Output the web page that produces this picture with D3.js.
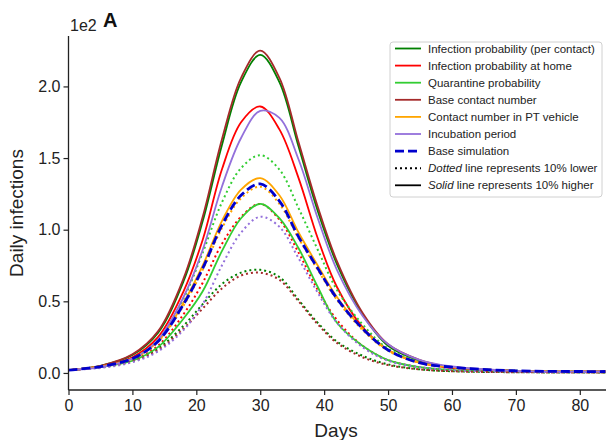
<!DOCTYPE html>
<html>
<head>
<meta charset="utf-8">
<script src="https://cdn.jsdelivr.net/npm/d3@7"></script>
<style>
  html, body { margin: 0; padding: 0; background: #fff; }
  svg { display: block; font-family: "Liberation Sans", Arial, sans-serif; }
</style>
</head>
<body>
<svg id="chart" width="606" height="440"></svg>
<script>
// ---- data (values in units of 1e2) ----
const days = [0, 5, 10, 14, 18, 21, 24, 27, 30, 33, 36, 39, 42, 46, 50, 55, 60, 70, 84];

const perContactHigh = [0.02, 0.05, 0.125, 0.28, 0.64, 1.06, 1.59, 2.03, 2.22, 2.03, 1.58, 1.13, 0.76, 0.41, 0.19, 0.085, 0.04, 0.015, 0.01];
const perContactLow  = [0.02, 0.04, 0.085, 0.17, 0.33, 0.48, 0.62, 0.70, 0.72, 0.67, 0.51, 0.35, 0.22, 0.12, 0.06, 0.025, 0.012, 0.005, 0.003];
const homeHigh       = [0.02, 0.045, 0.11, 0.25, 0.57, 0.93, 1.42, 1.75, 1.86, 1.70, 1.36, 0.94, 0.60, 0.32, 0.16, 0.07, 0.035, 0.013, 0.01];
const homeLow        = [0.02, 0.04, 0.09, 0.19, 0.41, 0.63, 0.90, 1.09, 1.18, 1.07, 0.84, 0.58, 0.37, 0.19, 0.09, 0.04, 0.02, 0.01, 0.005];
const quarantineHigh = [0.02, 0.04, 0.085, 0.18, 0.38, 0.57, 0.85, 1.08, 1.18, 1.08, 0.87, 0.60, 0.35, 0.19, 0.09, 0.04, 0.02, 0.01, 0.005];
const quarantineLow  = [0.02, 0.045, 0.10, 0.23, 0.52, 0.84, 1.19, 1.43, 1.52, 1.42, 1.15, 0.86, 0.58, 0.34, 0.17, 0.08, 0.04, 0.015, 0.01];
const contactHigh    = [0.02, 0.05, 0.13, 0.29, 0.66, 1.09, 1.63, 2.06, 2.25, 2.06, 1.61, 1.16, 0.78, 0.42, 0.20, 0.09, 0.04, 0.015, 0.01];
const contactLow     = [0.02, 0.04, 0.08, 0.16, 0.31, 0.45, 0.59, 0.68, 0.70, 0.65, 0.50, 0.34, 0.21, 0.11, 0.055, 0.025, 0.012, 0.005, 0.003];
const ptHigh         = [0.02, 0.045, 0.10, 0.22, 0.49, 0.75, 1.06, 1.28, 1.36, 1.24, 0.98, 0.75, 0.53, 0.31, 0.16, 0.07, 0.04, 0.015, 0.01];
const ptLow          = [0.02, 0.045, 0.10, 0.22, 0.47, 0.72, 1.01, 1.22, 1.30, 1.18, 0.94, 0.72, 0.51, 0.30, 0.155, 0.07, 0.04, 0.015, 0.01];
const incubationHigh = [0.02, 0.04, 0.10, 0.23, 0.53, 0.86, 1.30, 1.64, 1.83, 1.78, 1.49, 1.08, 0.72, 0.40, 0.20, 0.09, 0.045, 0.015, 0.01];
const incubationLow  = [0.02, 0.035, 0.075, 0.15, 0.30, 0.48, 0.75, 0.98, 1.09, 1.02, 0.80, 0.56, 0.35, 0.18, 0.085, 0.04, 0.02, 0.008, 0.005];
const baseSim        = [0.02, 0.045, 0.10, 0.22, 0.48, 0.73, 1.03, 1.24, 1.32, 1.20, 0.95, 0.73, 0.52, 0.31, 0.16, 0.07, 0.04, 0.015, 0.01];

const paramNames = [
  "Infection probability (per contact)",
  "Infection probability at home",
  "Quarantine probability",
  "Base contact number",
  "Contact number in PT vehicle",
  "Incubation period"
];
const paramColors = ["#008000", "#ff0000", "#32cd32", "#a52a2a", "#ffa500", "#9370db"];
const baseColor = "#0000cd";

const xTicks = [0, 10, 20, 30, 40, 50, 60, 70, 80];
const yTicks = [0, 0.5, 1.0, 1.5, 2.0];

const params = [
  { high: perContactHigh, low: perContactLow },
  { high: homeHigh, low: homeLow },
  { high: quarantineHigh, low: quarantineLow },
  { high: contactHigh, low: contactLow },
  { high: ptHigh, low: ptLow },
  { high: incubationHigh, low: incubationLow }
];

// ---- scales ----
const svg = d3.select("#chart");
const x = d3.scaleLinear().domain([0, 84.1]).range([68.5, 606]);
const y = d3.scaleLinear().domain([-0.119, 2.352]).range([390, 36]);

const line = d3.line()
  .x((d, i) => x(days[i]))
  .y(d => y(d))
  .curve(d3.curveCatmullRom.alpha(0.5));

// ---- curves ----
const plot = svg.append("g");
params.forEach((p, i) => {
  plot.append("path")
    .attr("d", line(p.high))
    .attr("fill", "none")
    .attr("stroke", paramColors[i])
    .attr("stroke-width", 1.8);
  plot.append("path")
    .attr("d", line(p.low))
    .attr("fill", "none")
    .attr("stroke", paramColors[i])
    .attr("stroke-width", 2)
    .attr("stroke-dasharray", "2,3");
});
plot.append("path")
  .attr("d", line(baseSim))
  .attr("fill", "none")
  .attr("stroke", baseColor)
  .attr("stroke-width", 2.8)
  .attr("stroke-dasharray", "9,4");

// ---- axes ----
const xAxis = d3.axisBottom(x).tickValues(xTicks).tickSize(5).tickPadding(5).tickFormat(d3.format("d"));
const yAxis = d3.axisLeft(y).tickValues(yTicks).tickSize(5).tickPadding(3).tickFormat(d3.format(".1f"));

const gx = svg.append("g").attr("transform", `translate(0,${y.range()[0]})`).call(xAxis);
const gy = svg.append("g").attr("transform", `translate(${x.range()[0]},0)`).call(yAxis);
[gx, gy].forEach(g => {
  g.select(".domain").attr("stroke", "#222").attr("stroke-width", 1.3);
  g.selectAll(".tick line").attr("stroke", "#222").attr("stroke-width", 1.2);
  g.selectAll(".tick text").attr("fill", "#222").style("font-size", "16px")
    .style("font-family", "'Liberation Sans', Arial, sans-serif");
});
gy.select(".domain").attr("d", `M0,${y.range()[1]}V${y.range()[0]}`);
gx.select(".domain").attr("d", `M${x.range()[0]},0H${x.range()[1]}`);

svg.append("text")
  .attr("x", 336).attr("y", 437)
  .attr("text-anchor", "middle")
  .style("font-size", "19px").attr("fill", "#222")
  .text("Days");

svg.append("text")
  .attr("transform", "translate(23,213) rotate(-90)")
  .attr("text-anchor", "middle")
  .style("font-size", "19px").attr("fill", "#222")
  .text("Daily infections");

svg.append("text")
  .attr("x", 70).attr("y", 31)
  .style("font-size", "16px").attr("fill", "#222")
  .text("1e2");

svg.append("text")
  .attr("x", 103).attr("y", 27)
  .style("font-size", "20px").style("font-weight", "bold").attr("fill", "#111")
  .text("A");

// ---- legend ----
const legend = svg.append("g");
legend.append("rect")
  .attr("x", 390).attr("y", 42).attr("width", 212).attr("height", 155)
  .attr("rx", 3).attr("fill", "#fff").attr("stroke", "#d0d0d0");

const rowY = i => 48.5 + i * 17.1;
const legendRows = paramNames.map((n, i) => ({ label: n, color: paramColors[i], dash: null, w: 1.8 }));
legendRows.push({ label: "Base simulation", color: baseColor, dash: "9,4", w: 2.8 });
legendRows.push({ label: null, italic: "Dotted", rest: " line represents 10% lower", color: "#000", dash: "2,3", w: 2 });
legendRows.push({ label: null, italic: "Solid", rest: " line represents 10% higher", color: "#000", dash: null, w: 1.8 });

legendRows.forEach((r, i) => {
  legend.append("line")
    .attr("x1", 395).attr("x2", 421)
    .attr("y1", rowY(i)).attr("y2", rowY(i))
    .attr("stroke", r.color).attr("stroke-width", r.w)
    .attr("stroke-dasharray", r.dash);
  const t = legend.append("text")
    .attr("x", 428).attr("y", rowY(i) + 4)
    .style("font-size", "11.5px").attr("fill", "#222");
  if (r.label) {
    t.text(r.label);
  } else {
    t.append("tspan").style("font-style", "italic").text(r.italic);
    t.append("tspan").text(r.rest);
  }
});
</script>
</body>
</html>
